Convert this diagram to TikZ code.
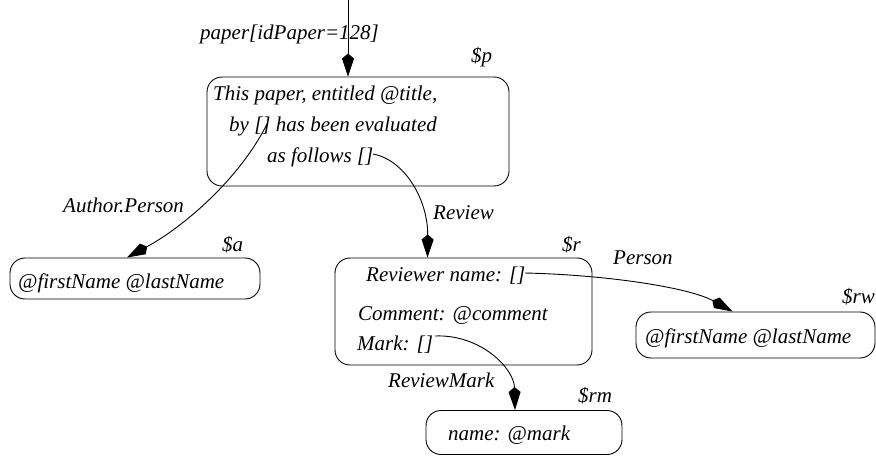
\documentclass[tikz,border=0pt]{standalone}
\usepackage{fontspec}
\setmainfont{Liberation Serif}
\usetikzlibrary{arrows.meta}
\newcommand{\dgfont}{\fontsize{21}{25}\selectfont\itshape}

\begin{document}
\begin{tikzpicture}[x=1pt, y=-1pt,
  tbox/.style={rectangle, rounded corners=15pt, draw, line width=0.9pt, inner sep=0pt},
  txt/.style={anchor=base west, inner sep=0pt, font=\dgfont},
  link/.style={-{Kite[length=23pt, width=12pt, inset=5pt]}, line width=0.9pt}
]
\useasboundingbox (0,0) rectangle (876,457);

% Template boxes
\node[tbox, minimum width=302pt, minimum height=109pt] (p)  at (358,131.5) {};
\node[tbox, minimum width=250pt, minimum height=41pt]  (a)  at (135,278.5) {};
\node[tbox, minimum width=257pt, minimum height=107pt] (r)  at (463.5,311.5) {};
\node[tbox, minimum width=239pt, minimum height=46pt]  (rw) at (755.5,335) {};
\node[tbox, minimum width=196pt, minimum height=44pt]  (rm) at (524,432.5) {};

% Box contents
\node[txt] (p1)  at (213,101) {This paper, entitled @title,};
\node[txt] (p2)  at (229,132) {by [] has been evaluated};
\node[txt] (p3)  at (267,163) {as follows []};
\node[txt] (a1)  at (18,289)  {@firstName @lastName};
\node[txt] (r1)  at (366,282) {Reviewer name: []};
\node[txt] (r2)  at (358,320) {Comment: @comment};
\node[txt] (r3)  at (357,350) {Mark: []};
\node[txt] (rw1) at (645,343) {@firstName @lastName};
\node[txt] (rm1) at (448,440) {name: @mark};

% Variables
\node[txt] (pv)  at (471,63)  {\$p};
\node[txt] (av)  at (222,252) {\$a};
\node[txt] (rv)  at (562,252) {\$r};
\node[txt] (rwv) at (842,303) {\$rw};
\node[txt] (rmv) at (578,402) {\$rm};

% Edge labels
\node[txt] (lpaper)  at (200,40)  {paper[idPaper=128]};
\node[txt] (lauthor) at (63,213)  {Author.Person};
\node[txt] (lreview) at (433,220) {Review};
\node[txt] (lperson) at (613,265) {Person};
\node[txt] (lmark)   at (388,387) {ReviewMark};

% Anchors inside the [] holes
\coordinate (top)  at (348,0);
\coordinate (byh)  at (267,124);
\coordinate (asfh) at (373,154);
\coordinate (revh) at (525,273);
\coordinate (mkh)  at (435,336);

% Links
\draw[link] (top) -- (p.north -| top);
\draw[link] (byh)  .. controls (240,178) and (185,226) .. ([xshift=-8pt]a.north);
\draw[link] (asfh) .. controls (405,160) and (428,200) .. ([xshift=-36pt]r.north);
\draw[link] (revh) .. controls (610,275) and (690,288) .. ([xshift=-23pt]rw.north);
\draw[link] (mkh)  .. controls (480,334) and (514,368) .. ([xshift=-9pt]rm.north);
\end{tikzpicture}
\end{document}
